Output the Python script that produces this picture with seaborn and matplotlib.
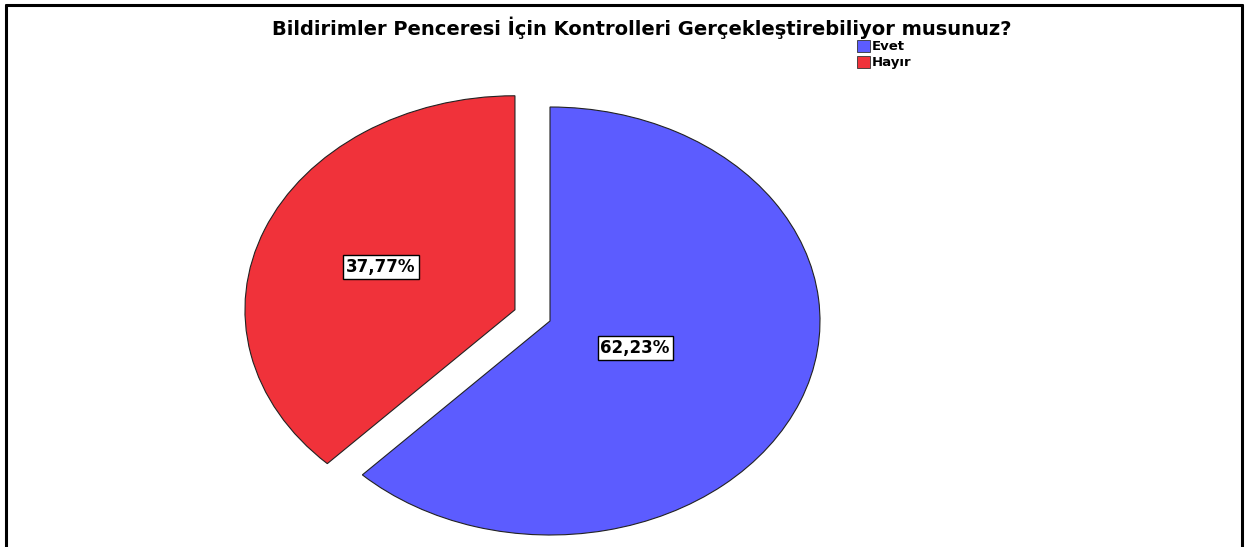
import seaborn as sns
import matplotlib.pyplot as plt
from matplotlib.patches import Patch
from matplotlib.lines import Line2D

sns.set_style('white')
plt.rcParams['font.family'] = ['DejaVu Sans']
plt.rcParams['text.color'] = 'black'

title = 'Bildirimler Penceresi İçin Kontrolleri Gerçekleştirebiliyor musunuz?'
labels = ['Evet', 'Hayır']
values = [62.23, 37.77]
colors = ['#5c5cff', '#f0323a']
explode = [0, 0.14]
label_dist = [0.34, 0.5]

fig = plt.figure(figsize=(12.46, 5.47), dpi=100)
ax = fig.add_axes([0, 0, 1, 1])

wedges, texts, autotexts = ax.pie(
    values, colors=colors, explode=explode, startangle=90, counterclock=False,
    autopct=lambda p: f'{p:.2f}%'.replace('.', ','), pctdistance=0.4,
    wedgeprops=dict(edgecolor='#222222', linewidth=0.8),
    textprops=dict(fontsize=12, fontweight='bold', color='black'))

# reposition the percentage labels along each bisector
for t, d in zip(autotexts, label_dist):
    x, y = t.get_position()
    t.set_position((x * d / 0.4, y * d / 0.4))
    t.set_bbox(dict(facecolor='white', edgecolor='black', linewidth=1, pad=2))

# squashed (elliptical) pie as in the original
ax.set_aspect('auto')
ax.set_xlim(-550 / 270, (1246 - 550) / 270)
ax.set_ylim(-(547 - 321) / 214, 321 / 214)
ax.axis('off')

fig.text(0.515, 1 - 28 / 547, title, ha='center', va='center',
         fontsize=14, fontweight='bold', color='black')

handles = [Patch(facecolor=c, edgecolor='#333333', linewidth=0.6) for c in colors]
fig.legend(handles, labels, loc='upper left', bbox_to_anchor=(857 / 1246, 1 - 40 / 547),
           frameon=False, handlelength=1.0, handleheight=1.0, handletextpad=0.15,
           labelspacing=0.2, borderaxespad=0, borderpad=0,
           prop=dict(size=9.5, weight='bold'))

# outer frame (left, top, right)
for xs, ys in [([6, 6], [547, 5]), ([6, 1242], [5, 5]), ([1242, 1242], [5, 547])]:
    fig.add_artist(Line2D([x / 1246 for x in xs], [1 - y / 547 for y in ys],
                          color='black', linewidth=2.2))

fig.savefig('out.png', dpi=100)
